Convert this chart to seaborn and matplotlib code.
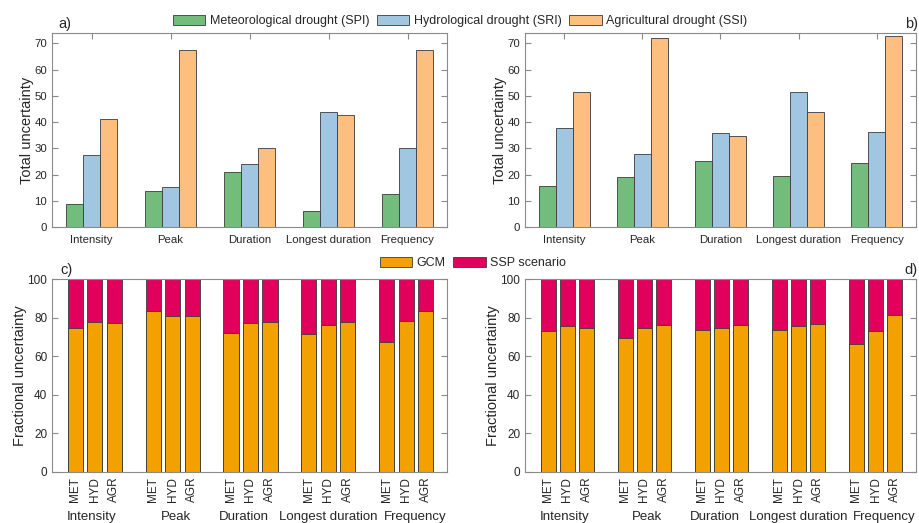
import numpy as np
import pandas as pd
import matplotlib
matplotlib.use("Agg")
import matplotlib.pyplot as plt
import matplotlib.patches as mpatches
from matplotlib.transforms import blended_transform_factory
import seaborn as sns

# datos
metricas = ["Intensity", "Peak", "Duration", "Longest duration", "Frequency"]
sequias = ["Meteorological drought (SPI)", "Hydrological drought (SRI)", "Agricultural drought (SSI)"]
colores_sequia = ["#72bd7b", "#a0c6e2", "#fdbf80"]

spi_a = [8.9, 13.7, 21.0, 6.0, 12.6]
sri_a = [27.3, 15.2, 24.0, 43.8, 30.3]
ssi_a = [41.2, 67.4, 30.3, 42.8, 67.7]

spi_b = [15.7, 19.2, 25.2, 19.3, 24.5]
sri_b = [37.9, 28.0, 36.0, 51.6, 36.2]
ssi_b = [51.5, 72.0, 34.7, 44.0, 73.0]

indices = ["MET", "HYD", "AGR"]
gcm_c = [74.4, 77.6, 77.0, 83.5, 80.8, 80.7, 71.9, 77.1, 77.6, 71.5, 76.0, 77.6, 67.5, 78.0, 83.2]
gcm_d = [73.2, 75.5, 74.8, 69.2, 74.8, 76.2, 73.4, 74.8, 76.2, 73.8, 75.5, 76.6, 66.1, 72.9, 81.5]
color_gcm = "#f2a100"
color_ssp = "#e2005d"

# posicion de los nombres de grupo bajo los paneles c y d (como en el original)
x_grupo = [1.85, 6.15, 9.65, 14.0, 18.45]

sns.set_style("ticks")
plt.rcParams["font.family"] = ["Liberation Sans", "DejaVu Sans"]
plt.rcParams["axes.edgecolor"] = "#8a8a8a"
plt.rcParams["xtick.color"] = "#8a8a8a"
plt.rcParams["ytick.color"] = "#8a8a8a"
plt.rcParams["xtick.labelcolor"] = "#262626"
plt.rcParams["ytick.labelcolor"] = "#262626"

fig = plt.figure(figsize=(9.2, 5.23), dpi=100)
W, H = 920, 523

def ejes(x0, y0, x1, y1):
    return fig.add_axes([x0 / W, 1 - y1 / H, (x1 - x0) / W, (y1 - y0) / H])

ax_a = ejes(52, 33, 447, 227)
ax_b = ejes(525, 33, 916, 227)
ax_c = ejes(52, 279, 447, 472)
ax_d = ejes(525, 279, 916, 472)


def panel_total(ax, spi, sri, ssi):
    df = pd.DataFrame({
        "metrica": metricas * 3,
        "sequia": np.repeat(sequias, len(metricas)),
        "valor": spi + sri + ssi,
    })
    sns.barplot(data=df, x="metrica", y="valor", hue="sequia", hue_order=sequias,
                palette=colores_sequia, width=0.65, saturation=1, errorbar=None,
                edgecolor="#3a3a3a", linewidth=0.6, legend=False, ax=ax)
    ax.set_xlim(-0.5, 4.5)
    ax.set_ylim(0, 74)
    ax.set_yticks(range(0, 71, 10))
    ax.set_xlabel("")
    ax.set_ylabel("Total uncertainty", fontsize=10.5, color="#262626", labelpad=0)
    ax.tick_params(direction="in", top=True, right=True, length=4, width=0.8, labelsize=8.2)
    ax.tick_params(axis="x", pad=6)
    for s in ax.spines.values():
        s.set_linewidth(0.8)


def panel_fraccion(ax, gcm):
    pos = []
    for g in range(len(metricas)):
        pos += [g * 4 + 1, g * 4 + 2, g * 4 + 3]
    sns.barplot(x=pos, y=[100] * len(pos), native_scale=True, color=color_ssp,
                saturation=1, width=0.78, errorbar=None, edgecolor="#3a3a3a",
                linewidth=0.6, ax=ax)
    sns.barplot(x=pos, y=gcm, native_scale=True, color=color_gcm,
                saturation=1, width=0.78, errorbar=None, edgecolor="#3a3a3a",
                linewidth=0.6, ax=ax)
    ax.set_xlim(-0.2, 20.1)
    ax.set_ylim(0, 100)
    ax.set_xticks(pos)
    ax.set_xticklabels(indices * len(metricas), rotation=90, fontsize=8.5)
    ax.set_yticks(range(0, 101, 20))
    ax.set_ylabel("Fractional uncertainty", fontsize=10.5, color="#262626", labelpad=0.5)
    ax.tick_params(direction="in", top=True, right=True, length=4, width=0.8, labelsize=8.5)
    for s in ax.spines.values():
        s.set_linewidth(0.8)
    trans = blended_transform_factory(ax.transData, ax.transAxes)
    for xg, m in zip(x_grupo, metricas):
        ax.text(xg, -0.232, m, transform=trans, ha="center", va="center",
                fontsize=9.5, color="#262626")


panel_total(ax_a, spi_a, sri_a, ssi_a)
panel_total(ax_b, spi_b, sri_b, ssi_b)
panel_fraccion(ax_c, gcm_c)
panel_fraccion(ax_d, gcm_d)

# etiquetas de panel
fig.text(58 / W, 1 - 24 / H, "a)", fontsize=10.5, va="center", ha="left", color="#262626")
fig.text(918 / W, 1 - 24 / H, "b)", fontsize=10.5, va="center", ha="right", color="#262626")
fig.text(60 / W, 1 - 270 / H, "c)", fontsize=10.5, va="center", ha="left", color="#262626")
fig.text(918 / W, 1 - 270 / H, "d)", fontsize=10.5, va="center", ha="right", color="#262626")

# leyendas
h_top = [mpatches.Patch(facecolor=c, edgecolor="#3a3a3a", linewidth=0.6, label=l)
         for c, l in zip(colores_sequia, sequias)]
fig.legend(handles=h_top, loc="center", bbox_to_anchor=(460 / W, 1 - 21 / H), ncol=3,
           frameon=False, fontsize=9, handlelength=2.6, handleheight=0.8,
           handletextpad=0.35, columnspacing=0.6, borderpad=0)

h_bot = [mpatches.Patch(facecolor=color_gcm, edgecolor="#3a3a3a", linewidth=0.6, label="GCM"),
         mpatches.Patch(facecolor=color_ssp, edgecolor="#3a3a3a", linewidth=0.6, label="SSP scenario")]
fig.legend(handles=h_bot, loc="center", bbox_to_anchor=(473 / W, 1 - 263 / H), ncol=2,
           frameon=False, fontsize=9, handlelength=2.6, handleheight=0.8,
           handletextpad=0.35, columnspacing=0.6, borderpad=0)

fig.savefig("out.png", dpi=100)
